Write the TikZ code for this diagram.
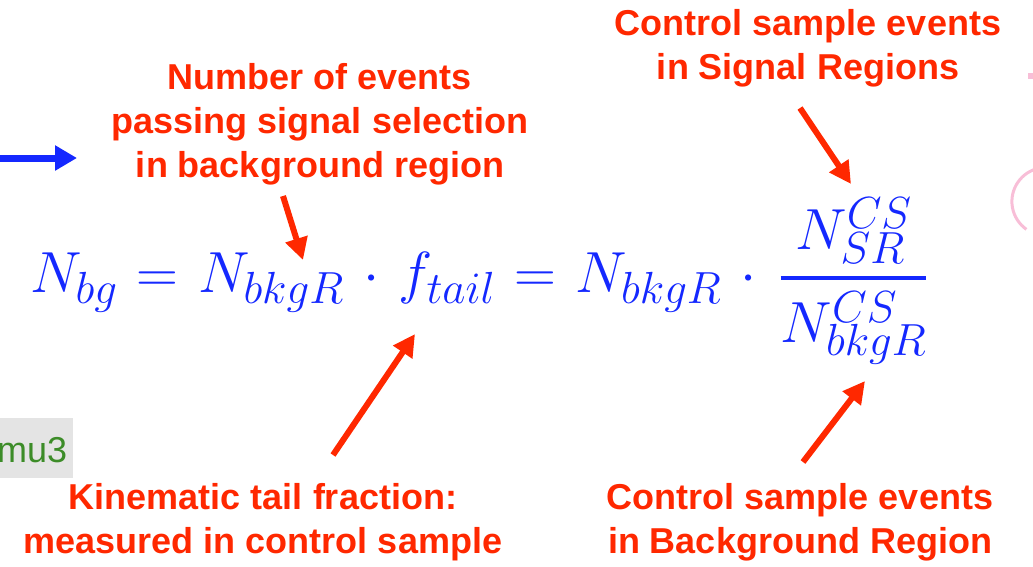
\documentclass[tikz,border=0pt]{standalone}
\usepackage{fix-cm}
\usepackage{fontspec}
\newfontfamily\labfont{Liberation Sans}
\usetikzlibrary{arrows.meta}
\DeclareMathSizes{58}{58}{45}{35}
\definecolor{labred}{RGB}{255,40,0}
\definecolor{eqblue}{RGB}{20,40,255}
\definecolor{mugreen}{RGB}{60,140,40}
\definecolor{mugray}{RGB}{228,228,228}
\definecolor{pinkish}{RGB}{248,190,215}
\newcommand{\eqtext}{$\displaystyle N_{bg}\mskip 1mu=\mskip 1mu N_{bkgR}\mskip 2mu\cdot\mskip 2mu f_{tail}\mskip 1mu=\mskip 1mu N_{bkgR}\mskip 2mu\cdot\mskip 3mu{N_{SR}^{CS}\above 4pt N_{bkgR}^{CS}}$}
\tikzset{
  lab/.style={text=labred, font=\labfont\bfseries\fontsize{36}{44}\selectfont, align=center, inner sep=0pt},
  redarrow/.style={draw=labred, line width=6pt, -{Triangle[length=22pt,width=22pt]}},
}
\begin{document}
\begin{tikzpicture}[x=1pt,y=-1pt]
\useasboundingbox (0,0) rectangle (1033,566);
% blue arrow at left
\coordinate (ba1) at (0,158);
\coordinate (ba2) at (77,158);
\draw[eqblue, line width=7pt, -{Triangle[length=22pt,width=24pt]}] (ba1) -- (ba2);
% mu3 box
\node[fill=mugray, anchor=north west, minimum width=73pt, minimum height=60pt, inner sep=0pt] (mubox) at (0,418) {};
\node[anchor=base west, text=mugreen, font=\labfont\fontsize{36}{40}\selectfont, inner sep=0pt] (mu) at (-3,462) {mu3};
% pink decoration right edge
\fill[pinkish] (1028,73) rectangle (1033,79);
\draw[pinkish, line width=3pt] (1040,168) arc[start angle=100, end angle=235, radius=34pt];
% equation
\node[anchor=base west, text=eqblue, inner sep=0pt, font=\fontsize{58}{62}\selectfont] (eq) at (30,292) {\eqtext};
% labels
\node[lab] (l1) at (320,124) {Number of events\\passing signal selection\\in background region};
\node[lab] (l2) at (808,48) {Control sample events\\in Signal Regions};
\node[lab] (l3) at (263,522) {Kinematic tail fraction:\\measured in control sample};
\node[lab] (l4) at (800,522) {Control sample events\\in Background Region};
% arrows
\coordinate (a1s) at (283,196); \coordinate (a1e) at (303,260);
\coordinate (a2s) at (333,455); \coordinate (a2e) at (415,334);
\coordinate (a3s) at (800,108); \coordinate (a3e) at (851,184);
\coordinate (a4s) at (803,462); \coordinate (a4e) at (865,381);
\draw[redarrow] (a1s) -- (a1e);
\draw[redarrow] (a2s) -- (a2e);
\draw[redarrow] (a3s) -- (a3e);
\draw[redarrow] (a4s) -- (a4e);
\end{tikzpicture}
\end{document}
